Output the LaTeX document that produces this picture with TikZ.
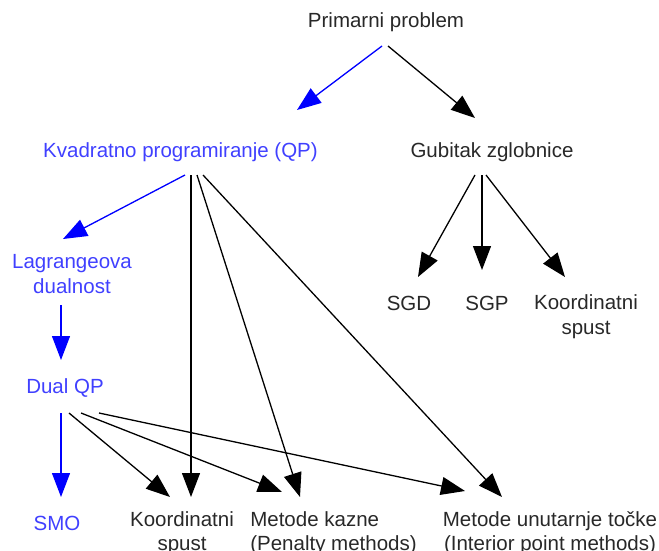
\documentclass[tikz,border=0pt]{standalone}
\usepackage{fontspec}
\setmainfont{Liberation Sans}
\usetikzlibrary{arrows.meta}
\definecolor{txt}{RGB}{40,40,40}
\definecolor{btxt}{RGB}{64,64,255}
\definecolor{bedge}{RGB}{0,0,255}
\tikzset{
  lbl/.style={text=txt, inner sep=0pt, align=center, font=\fontsize{20.5}{24}\selectfont},
  blbl/.style={lbl, text=btxt},
  edge/.style={draw=black, line width=1.3pt, -{Triangle[length=24pt,width=18pt]}},
  bluedge/.style={edge, draw=bedge, fill=bedge},
}
\begin{document}
\begin{tikzpicture}[x=1pt,y=-1pt]
\useasboundingbox (0,0) rectangle (659,551);
\node[lbl]  (prim)  at (386,22)   {Primarni problem};
\node[blbl] (qp)    at (180.5,152) {Kvadratno programiranje (QP)};
\node[lbl]  (gub)   at (492,152)  {Gubitak zglobnice};
\node[blbl, font=\fontsize{20.5}{25}\selectfont] (lag) at (72,274) {Lagrangeova\\dualnost};
\node[blbl] (dual)  at (65,388)   {Dual QP};
\node[lbl]  (sgd)   at (409,303)  {SGD};
\node[lbl]  (sgp)   at (487,303)  {SGP};
\node[lbl, font=\fontsize{20.5}{25}\selectfont] (kspR) at (586,317) {Koordinatni\\spust};
\node[blbl] (smo)   at (57,523)   {SMO};
\node[lbl]  (kspB)  at (182,533)  {Koordinatni\\spust};
\node[lbl, align=left] (kazne) at (333.5,533) {Metode kazne\\(Penalty methods)};
\node[lbl]  (unut)  at (550,533)  {Metode unutarnje točke\\(Interior point methods)};

\draw[bluedge] ([shift={(-4,24)}]prim.center) -- ([shift={(116.5,-42)}]qp.center);
\draw[edge] ([shift={(2,24)}]prim.center) -- ([shift={(-17,-34)}]gub.center);
\draw[bluedge] ([shift={(4.5,23)}]qp.center) -- ([shift={(-9,-35)}]lag.center);
\draw[edge] ([shift={(10.5,23)}]qp.center) -- ([shift={(9,-36)}]kspB.center);
\draw[edge] ([shift={(16.5,23)}]qp.center) -- ([shift={(-33.5,-36)}]kazne.center);
\draw[edge] ([shift={(22.5,23)}]qp.center) -- ([shift={(-48,-36)}]unut.center);
\draw[bluedge] ([shift={(-11,31)}]lag.center) -- ([shift={(-4,-28)}]dual.center);
\draw[bluedge] ([shift={(-4,25)}]dual.center) -- ([shift={(4,-26)}]smo.center);
\draw[edge] ([shift={(4,25)}]dual.center) -- ([shift={(-12,-36)}]kspB.center);
\draw[edge] ([shift={(16,25)}]dual.center) -- ([shift={(-51.5,-41)}]kazne.center);
\draw[edge] ([shift={(34,25)}]dual.center) -- ([shift={(-85,-42)}]unut.center);
\draw[edge] ([shift={(-17,23)}]gub.center) -- ([shift={(9,-26)}]sgd.center);
\draw[edge] ([shift={(-10,23)}]gub.center) -- ([shift={(-5,-33)}]sgp.center);
\draw[edge] ([shift={(-6,23)}]gub.center) -- ([shift={(-21,-40)}]kspR.center);
\end{tikzpicture}
\end{document}
